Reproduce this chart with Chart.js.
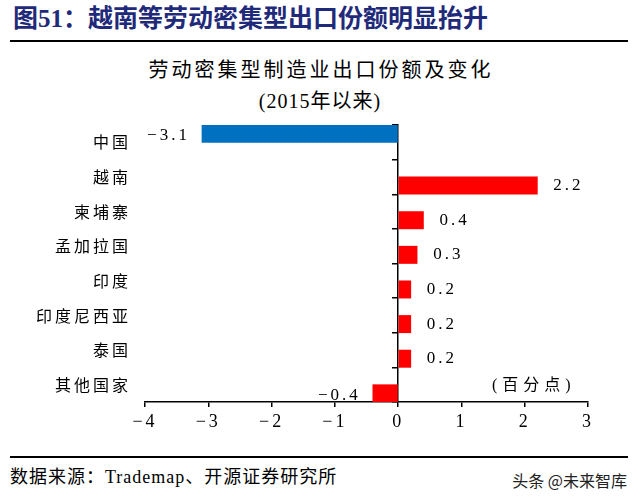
<!DOCTYPE html>
<html>
<head>
<meta charset="utf-8">
<script src="https://cdn.jsdelivr.net/npm/chart.js@4"></script>
<style>
    body { margin: 0; width: 640px; height: 502px; background: #fff; position: relative; overflow: hidden;
           font-family: 'Liberation Serif', 'Noto Sans CJK SC', serif; color: #000; }
    .abs { position: absolute; white-space: nowrap; }
    #title { left: 13px; top: 4px; font-size: 25px; line-height: 30px; font-weight: bold; color: #1f2a7a; }
    .rule { left: 10px; width: 618px; height: 2px; background: #000; }
    #sub1 { left: 0; width: 642px; text-align: center; top: 57px; font-size: 20px; line-height: 26px; letter-spacing: 3px; }
    #sub2 { left: 0; width: 640px; text-align: center; top: 88px; font-size: 20px; line-height: 26px; letter-spacing: 1px; }
    #unit { left: 492px; top: 374px; font-size: 16px; line-height: 22px; letter-spacing: 5px; }
    #source { left: 10px; top: 465px; font-size: 18px; line-height: 24px; letter-spacing: 1px; }
    #brand { right: 13px; top: 468px; font-size: 16px; line-height: 24px; font-family: 'Noto Sans CJK SC', sans-serif; color: #222; }
    #chartBox { position: absolute; left: 0; top: 110px; width: 640px; height: 330px; }
</style>
</head>
<body>
<div id="title" class="abs">图51：越南等劳动密集型出口份额明显抬升</div>
<div class="abs rule" style="top:40px"></div>
<div id="sub1" class="abs">劳动密集型制造业出口份额及变化</div>
<div id="sub2" class="abs">(2015年以来)</div>
<div id="chartBox"><canvas id="shareChart"></canvas></div>
<div id="unit" class="abs">(百分点)</div>
<div class="abs rule" style="top:456px"></div>
<div id="source" class="abs">数据来源：Trademap、开源证券研究所</div>
<div id="brand" class="abs">头条 @未来智库</div>

<script>
// categories and values
const countries = ['中国', '越南', '柬埔寨', '孟加拉国', '印度', '印度尼西亚', '泰国', '其他国家'];
const chinaChange = [-3.1, null, null, null, null, null, null, null];
const otherChange = [null, 2.2, 0.4, 0.3, 0.2, 0.2, 0.2, -0.4];
const xTicks = [-4, -3, -2, -1, 0, 1, 2, 3];

const serif = "'Liberation Serif', 'Noto Sans CJK SC', serif";

function fmt(v, digits) {
    const s = Math.abs(v).toFixed(digits);
    return v < 0 ? '\u2212' + s : s;
}

// spaced-out glyphs like the original report font
const spacing = {
    id: 'spacing',
    beforeDraw(chart) { chart.ctx.letterSpacing = '3px'; }
};

// value labels next to the bar ends
const barLabels = {
    id: 'barLabels',
    afterDatasetsDraw(chart) {
        const ctx = chart.ctx;
        ctx.save();
        ctx.font = '17px ' + serif;
        ctx.fillStyle = '#000';
        ctx.textBaseline = 'middle';
        ctx.letterSpacing = '3px';
        chart.data.datasets.forEach((ds, i) => {
            const meta = chart.getDatasetMeta(i);
            meta.data.forEach((bar, j) => {
                const v = ds.data[j];
                if (v === null) return;
                if (v >= 0) {
                    ctx.textAlign = 'left';
                    ctx.fillText(fmt(v, 1), bar.x + 16, bar.y);
                } else {
                    ctx.textAlign = 'right';
                    ctx.fillText(fmt(v, 1), bar.x - 12, bar.y + 2);
                }
            });
        });
        ctx.restore();
    }
};

new Chart(document.getElementById('shareChart'), {
    type: 'bar',
    data: {
        labels: countries,
        datasets: [
            { data: chinaChange, backgroundColor: '#0070c0', categoryPercentage: 1, barPercentage: 1 },
            { data: otherChange, backgroundColor: '#ff0000', categoryPercentage: 1, barPercentage: 1 }
        ]
    },
    options: {
        indexAxis: 'y',
        responsive: true,
        maintainAspectRatio: false,
        animation: false,
        layout: { padding: { top: 15, right: 52, left: 0, bottom: 0 } },
        plugins: {
            legend: { display: false },
            tooltip: { enabled: false }
        },
        scales: {
            x: {
                min: xTicks[0],
                max: xTicks[xTicks.length - 1],
                afterBuildTicks: scale => { scale.ticks = xTicks.map(v => ({ value: v })); },
                afterFit: scale => { scale.height = 38; },
                border: { display: true, color: '#000', width: 1.5 },
                grid: { drawOnChartArea: false, drawTicks: true, tickLength: 5, color: '#000', lineWidth: 1.5 },
                ticks: {
                    padding: 4,
                    color: '#000',
                    font: { family: serif, size: 18 },
                    callback: v => fmt(v, 0)
                }
            },
            y: {
                type: 'category',
                offset: true,
                afterFit: scale => {
                    scale.width = 145;
                    scale.paddingTop = 0;
                    scale.paddingBottom = 0;
                },
                border: { display: false },
                grid: { display: false, drawTicks: false, offset: true },
                ticks: {
                    padding: 14,
                    color: '#000',
                    font: { family: "'Noto Sans CJK SC', sans-serif", size: 16 }
                }
            },
            yZero: {
                type: 'category',
                axis: 'y',
                labels: countries,
                position: { x: 0 },
                offset: true,
                border: { display: true, color: '#000', width: 1.5 },
                grid: { drawOnChartArea: false, drawTicks: true, tickLength: 5, color: '#000', lineWidth: 1.5, offset: true },
                ticks: { display: false }
            }
        }
    },
    plugins: [spacing, barLabels]
});
</script>
</body>
</html>
